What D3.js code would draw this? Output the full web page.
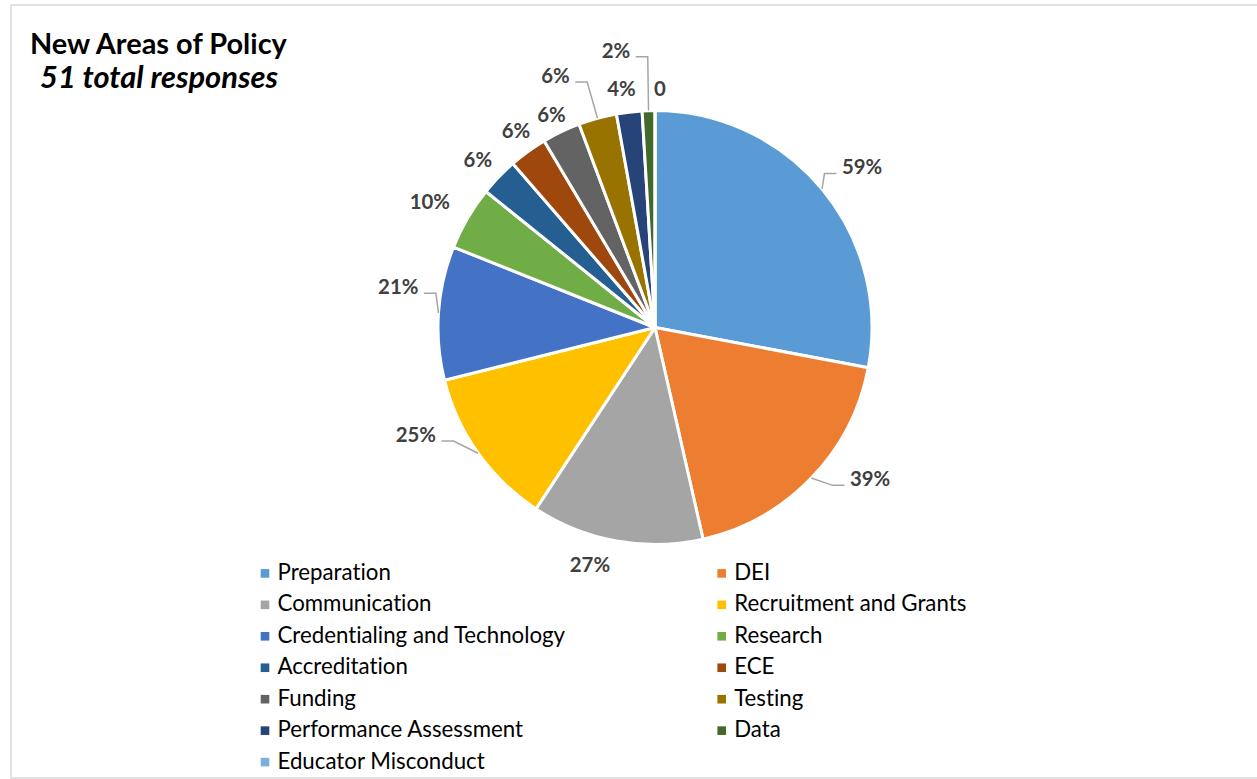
<!DOCTYPE html>
<html>
<head>
<meta charset="utf-8">
<script src="https://cdn.jsdelivr.net/npm/d3@7"></script>
<style>
  html, body { margin: 0; padding: 0; background: #ffffff; }
  svg { display: block; }
  svg text { font-variant-ligatures: none; font-feature-settings: "liga" 0, "clig" 0; }
</style>
</head>
<body>
<svg id="chart" width="1257" height="779"></svg>
<script>
// Areas of policy named by respondents (share of 51 responses, in percent)
const categories = [
  "Preparation", "DEI", "Communication", "Recruitment and Grants",
  "Credentialing and Technology", "Research", "Accreditation", "ECE",
  "Funding", "Testing", "Performance Assessment", "Data", "Educator Misconduct"
];
const percentValues = [59, 39, 27, 25, 21, 10, 6, 6, 6, 6, 4, 2, 0];
const sliceColors = [
  "#5B9BD5", "#ED7D31", "#A5A5A5", "#FFC000", "#4472C4", "#70AD47", "#255E91",
  "#9E480E", "#636363", "#997300", "#264478", "#43682B", "#7CAFDD"
];
const titleText = "New Areas of Policy";
const subtitleText = "51 total responses";

// Label placement around the pie: angle shift (deg) from the slice middle, distance from centre
const labelShift = [1.9, -8.8, 5.1, 11.3, 5.2, -1.1, -0.5, 0.6, -0.3, -6.2, -1.2, -6.3, 1.2];
const labelDist  = [262, 263, 246, 262, 260, 258, 244, 241, 237, 271, 241, 280, 239];
const withLeader = [true, true, false, true, true, false, false, false, false, true, false, true, false];

const svg = d3.select("#chart");
const FONT = "Lato, 'Open Sans', sans-serif";
const cx = 655, cy = 327.5, R = 217;

// chart frame
svg.append("rect")
  .attr("x", 11).attr("y", 5).attr("width", 1250).attr("height", 773)
  .attr("fill", "none").attr("stroke", "#d9d9d9").attr("stroke-width", 1.5);

// helper: fit a font size so that a reference string has the given width
function fitSize(text, weight, style, targetWidth) {
  const probe = svg.append("text").attr("font-family", FONT)
    .attr("font-weight", weight).attr("font-style", style)
    .attr("font-size", 100).text(text);
  const w = probe.node().getComputedTextLength();
  probe.remove();
  return 100 * targetWidth / w;
}

// title
const titleSize = fitSize(titleText, 700, "normal", 257);
svg.append("text").attr("x", 30).attr("y", 54)
  .attr("font-family", FONT).attr("font-weight", 700)
  .attr("font-size", titleSize).attr("fill", "#000").text(titleText);
const subSize = fitSize(subtitleText, 700, "italic", 238);
svg.append("text").attr("x", 40).attr("y", 87.5)
  .attr("font-family", FONT).attr("font-weight", 700).attr("font-style", "italic")
  .attr("font-size", subSize).attr("fill", "#000").text(subtitleText);

// pie
const pie = d3.pie().sort(null).value(d => d.value).startAngle(0).endAngle(2 * Math.PI);
const rows = categories.map((c, i) => ({ name: c, value: percentValues[i], color: sliceColors[i], i }));
const arcs = pie(rows);
const arc = d3.arc().innerRadius(0).outerRadius(R);

const g = svg.append("g").attr("transform", `translate(${cx},${cy})`);
g.selectAll("path.slice").data(arcs).join("path")
  .attr("class", "slice")
  .attr("d", arc)
  .attr("fill", d => d.data.color)
  .attr("stroke", "#ffffff")
  .attr("stroke-width", 3)
  .attr("stroke-linejoin", "round");

// data labels
const labelSize = fitSize("59%", 700, "normal", 40.3);
const capH = labelSize * 0.7165;
const fmt = v => v === 0 ? "0" : v + "%";
const polar = (ang, r) => [Math.sin(ang) * r, -Math.cos(ang) * r];

arcs.forEach((d, k) => {
  const mid = (d.startAngle + d.endAngle) / 2;
  const ang = mid + labelShift[k] * Math.PI / 180;
  const [lx, ly] = polar(ang, labelDist[k]);
  const t = g.append("text")
    .attr("x", lx).attr("y", ly + capH / 2)
    .attr("text-anchor", "middle")
    .attr("font-family", FONT).attr("font-weight", 700)
    .attr("font-size", labelSize).attr("fill", "#404040")
    .text(fmt(d.value));
  if (withLeader[k]) {
    const w = t.node().getComputedTextLength();
    const [ax, ay] = polar(mid, R);
    const dir = lx < ax ? 1 : -1;           // label on the left -> line meets its right edge
    const edge = lx + dir * w / 2;
    const endX = edge + dir * 5.5;
    const elbowX = endX + dir * 12;
    const yy = ly + 6.5;
    g.append("polyline")
      .attr("points", [[ax, ay], [elbowX, yy], [endX, yy]].map(p => p.join(",")).join(" "))
      .attr("fill", "none").attr("stroke", "#a6a6a6").attr("stroke-width", 1.5);
  }
});

// legend: two columns, filled left-to-right then down
const legendSize = fitSize("Credentialing and Technology", 400, "normal", 287.7);
const colX = [265, 721.7];
const rowY0 = 573.4, rowStep = 31.45, sq = 8.6;
const legend = svg.append("g");
rows.forEach((r, i) => {
  const col = i % 2, row = Math.floor(i / 2);
  const x = colX[col], y = rowY0 + row * rowStep;
  legend.append("rect")
    .attr("x", x - sq / 2).attr("y", y - sq / 2).attr("width", sq).attr("height", sq)
    .attr("fill", r.color);
  legend.append("text")
    .attr("x", x + 12.5).attr("y", y + 6.6)
    .attr("font-family", FONT).attr("font-size", legendSize).attr("fill", "#000")
    .text(r.name);
});
</script>
</body>
</html>
